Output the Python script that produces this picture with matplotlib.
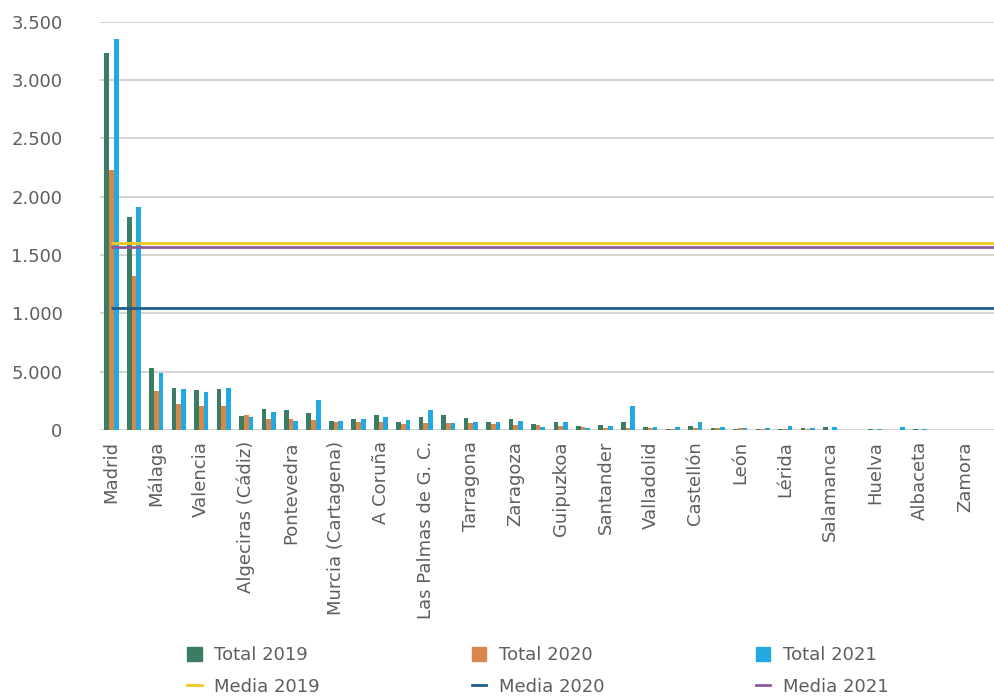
import matplotlib
matplotlib.use("Agg")
import matplotlib.pyplot as plt
import numpy as np
from matplotlib.patches import Patch
from matplotlib.lines import Line2D

# Visible category labels (Excel shows every other category)
visible_labels = ["Madrid", "Málaga", "Valencia", "Algeciras (Cádiz)", "Pontevedra",
                  "Murcia (Cartagena)", "A Coruña", "Las Palmas de G. C.", "Tarragona",
                  "Zaragoza", "Guipuzkoa", "Santander", "Valladolid", "Castellón",
                  "León", "Lérida", "Salamanca", "Huelva", "Albaceta", "Zamora"]
n_categories = 40

total_2019 = [3228, 1828, 529, 364, 341, 350, 121, 179, 171, 147,
              81, 98, 129, 72, 115, 129, 104, 65, 97, 49,
              65, 32, 40, 66, 24, 12, 32, 13, 7, 7,
              7, 14, 30, 0, 6, 0, 6, 0, 0, 0]
total_2020 = [2228, 1320, 332, 220, 202, 202, 130, 95, 95, 88,
              65, 65, 65, 54, 56, 56, 57, 48, 39, 39,
              31, 23, 14, 14, 14, 12, 14, 13, 15, 7,
              7, 6, 0, 0, 0, 0, 0, 0, 0, 0]
total_2021 = [3348, 1908, 488, 350, 327, 358, 113, 155, 81, 260,
              81, 97, 114, 87, 172, 56, 70, 66, 81, 30,
              66, 14, 32, 205, 24, 23, 65, 23, 15, 15,
              31, 14, 30, 0, 6, 23, 6, 0, 0, 0]

media_2019 = 1607
media_2020 = 1043
media_2021 = 1572

y_ticks = [0, 500, 1000, 1500, 2000, 2500, 3000, 3500]
y_tick_labels = ["0", "5.000", "1.000", "1.500", "2.000", "2.500", "3.000", "3.500"]

c19, c20, c21 = "#3B7D62", "#D8874B", "#22A9E1"
cm19, cm20, cm21 = "#F2C81E", "#1F5E8A", "#8C5A9C"
text_color = "#5E5E5E"

plt.rcParams['font.family'] = ['DejaVu Sans']

fig = plt.figure(figsize=(9.94, 7.0), dpi=100)
ax = fig.add_axes([100/994, 1-430/700, 1-100/994, (430-21.7)/700])

x = np.arange(n_categories)
w = 0.21
ax.bar(x - w, total_2019, w, color=c19, zorder=2)
ax.bar(x, total_2020, w, color=c20, zorder=2)
ax.bar(x + w, total_2021, w, color=c21, zorder=2)

xl = [0, n_categories]
ax.plot(xl, [media_2019]*2, color=cm19, lw=2.0, zorder=3, solid_capstyle='butt')
ax.plot(xl, [media_2021]*2, color=cm21, lw=2.0, zorder=3, solid_capstyle='butt')
ax.plot(xl, [media_2020]*2, color=cm20, lw=2.0, zorder=3, solid_capstyle='butt')

ax.set_xlim(-0.51, 39.3)
ax.set_ylim(0, 3500)
ax.set_yticks(y_ticks)
ax.set_yticklabels(y_tick_labels)
ax.set_xticks(x[::2])
ax.set_xticklabels(visible_labels, rotation=90)
ax.tick_params(axis='y', length=0, pad=27, labelsize=13, labelcolor=text_color)
ax.tick_params(axis='x', length=0, pad=8, labelsize=13, labelcolor=text_color)
ax.yaxis.grid(True, color="#D0D0D0", lw=1.3, zorder=0)
ax.set_axisbelow(True)
for s in ax.spines.values():
    s.set_visible(False)

handles = [Patch(color=c19), Line2D([], [], color=cm19, lw=2.0),
           Patch(color=c20), Line2D([], [], color=cm20, lw=2.0),
           Patch(color=c21), Line2D([], [], color=cm21, lw=2.0)]
labels = ["Total 2019", "Media 2019", "Total 2020", "Media 2020", "Total 2021", "Media 2021"]
leg = fig.legend(handles, labels, ncol=3, loc='center', bbox_to_anchor=(538/994, 1-671/700),
                 frameon=False, fontsize=13, handlelength=0.8, handleheight=0.8,
                 handletextpad=0.7, columnspacing=8.4, labelspacing=0.75)
for t in leg.get_texts():
    t.set_color(text_color)

fig.savefig("out.png", dpi=100)
